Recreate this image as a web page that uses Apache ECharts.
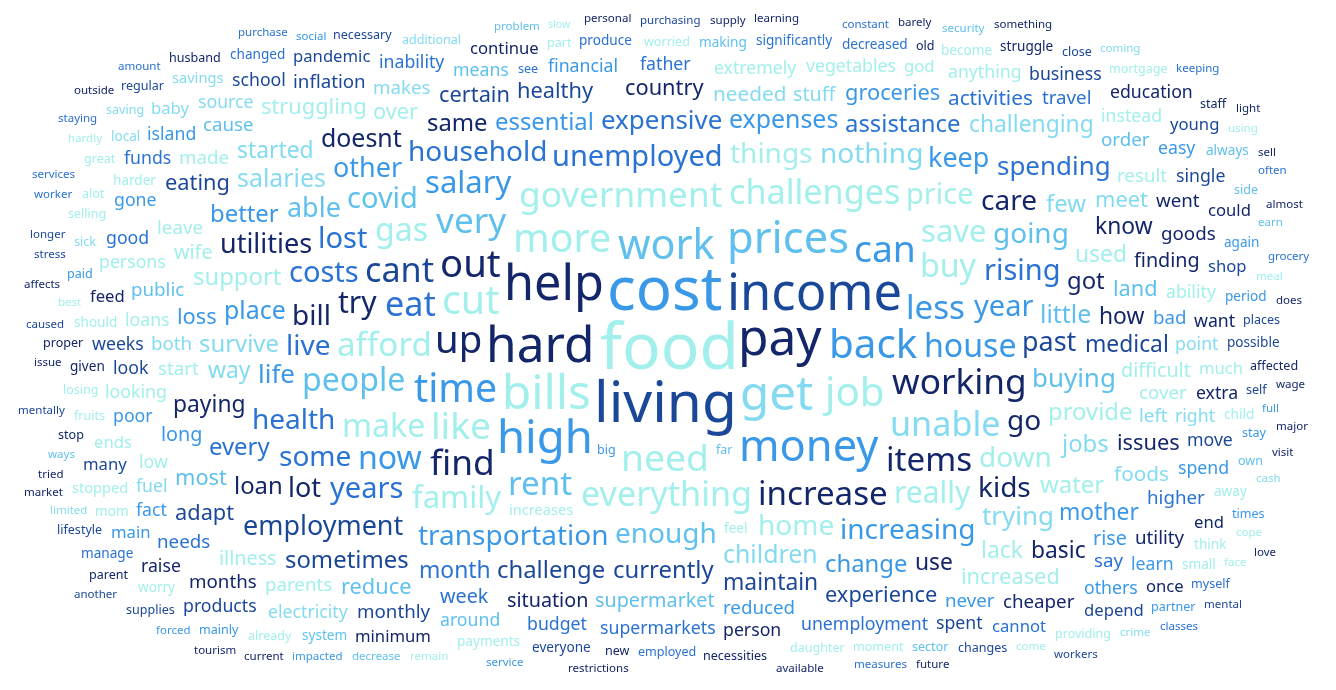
<!DOCTYPE html>
<html>
<head>
<meta charset="utf-8">
<script src="https://cdn.jsdelivr.net/npm/echarts@6/dist/echarts.min.js"></script>
<style>
html,body{margin:0;padding:0;background:#ffffff;}
#chart{width:1336px;height:690px;}
</style>
</head>
<body>
<div id="chart"></div>
<script>
// ---- DATA: [word, relative frequency], grouped by colour shade ----
const paleCyan = [["food",62],["bills",46],["more",38],["cut",38],["job",39],["need",36],["like",36],["government",34],["challenges",33],["everything",33],["afford",32],["make",31],["buy",31],["gas",31],["home",27],["family",30],["save",30],["price",28],["down",27],["things",27],["really",29],["provide",23],["water",23],["used",22],["support",23],["lack",22],["over",21],["increased",21],["struggling",21],["wife",19],["difficult",19],["illness",19],["leave",18],["made",18],["start",18],["result",18],["loans",17],["parents",18],["cover",18],["ability",17],["instead",17],["extremely",17],["looking",17],["anything",17],["vegetables",17],["persons",17],["much",16],["ends",16],["low",17],["god",16],["increases",14],["stopped",14],["harder",13],["payments",13],["should",13],["think",13],["away",13],["mom",13],["feel",13],["small",13],["child",13],["worry",13],["become",13],["cope",11],["hardly",11],["fruits",12],["worried",12],["selling",12],["great",12],["mortgage",12],["daughter",12],["moment",12],["alot",12],["already",12],["part",12],["losing",12],["providing",12],["come",11],["best",11],["face",11],["using",11],["remain",11],["meal",11],["slow",10]];
const lightSky = [["get",46],["unable",33],["nothing",27],["trying",25],["children",24],["salaries",24],["survive",23],["few",23],["jobs",23],["started",22],["challenging",22],["way",22],["meet",21],["needed",20],["foods",20],["stuff",19],["left",18],["makes",18],["both",18],["fuel",17],["source",17],["point",17],["right",17],["electricity",17],["baby",16],["savings",14],["local",13],["saving",12],["additional",12],["coming",11],["limited",11],["sick",12],["cash",11],["crime",11]];
const sky = [["prices",42],["work",40],["very",34],["rent",32],["people",31],["covid",28],["enough",27],["going",27],["able",26],["buying",25],["little",24],["reduce",21],["most",21],["land",21],["supermarket",19],["order",18],["cause",18],["public",18],["means",17],["around",17],["system",13],["making",13],["always",13],["sector",12],["own",12],["far",12],["side",12],["problem",11],["earn",11],["ways",11],["decrease",11],["security",11]];
const mediumBlue = [["cost",58],["high",44],["money",42],["back",39],["time",38],["can",36],["less",32],["house",31],["now",31],["salary",30],["year",28],["transportation",27],["increasing",27],["other",26],["keep",26],["life",25],["expenses",24],["place",24],["change",23],["essential",23],["better",23],["mother",22],["groceries",21],["loss",21],["long",19],["rise",19],["never",18],["bad",18],["reduced",18],["fact",17],["others",17],["financial",17],["island",17],["poor",17],["spend",17],["learn",17],["gone",17],["easy",17],["main",16],["again",13],["period",13],["big",12],["partner",12],["times",12],["stay",12],["paid",12],["mainly",12],["social",11],["impacted",11],["full",11],["forced",11],["service",11]];
const blue = [["eat",33],["unemployed",28],["years",28],["lost",28],["rising",28],["costs",28],["some",27],["household",27],["health",27],["live",27],["spending",25],["expensive",25],["assistance",23],["every",23],["month",22],["activities",20],["week",19],["say",18],["needs",18],["higher",18],["travel",18],["funds",17],["father",17],["budget",17],["unemployment",17],["supermarkets",17],["inability",17],["good",17],["cannot",16],["produce",13],["significantly",13],["decreased",13],["changed",13],["manage",13],["employed",12],["myself",12],["see",12],["keeping",11],["worker",11],["classes",11],["staying",11],["constant",11],["often",11],["measures",11],["purchase",11],["services",11],["grocery",11],["amount",11]];
const darkBlue = [["living",55],["income",49],["cant",33],["employment",26],["past",26],["currently",23],["challenge",23],["sometimes",23],["maintain",22],["medical",22],["adapt",21],["eating",21],["healthy",21],["experience",21],["certain",21],["monthly",18],["inflation",18],["look",17],["single",17],["move",17],["school",17],["spent",17],["business",17],["products",17],["weeks",17],["shop",16],["pandemic",16],["depend",16],["young",16],["many",16],["possible",13],["everyone",13],["places",12],["changes",12],["regular",12],["close",12],["self",12],["necessary",12],["supplies",12],["lifestyle",12],["caused",11],["purchasing",11],["mentally",11],["workers",11],["mental",11],["stress",11],["another",11],["longer",11]];
const navy = [["pay",48],["hard",48],["help",47],["up",37],["out",37],["find",34],["working",34],["items",32],["increase",32],["try",29],["bill",27],["go",27],["kids",27],["care",27],["utilities",26],["lot",26],["doesnt",24],["got",23],["loan",23],["same",23],["use",22],["paying",22],["how",22],["know",22],["basic",22],["country",21],["issues",21],["situation",19],["finding",19],["cheaper",18],["goods",18],["months",18],["utility",18],["went",18],["want",17],["extra",17],["raise",17],["education",17],["person",17],["end",16],["could",16],["feed",16],["minimum",16],["continue",16],["once",16],["struggle",13],["given",13],["parent",12],["necessities",12],["old",12],["husband",12],["stop",12],["new",12],["staff",12],["proper",12],["affected",12],["almost",11],["issue",11],["sell",11],["current",11],["visit",11],["light",11],["something",11],["tried",11],["personal",11],["barely",11],["supply",11],["love",11],["wage",11],["does",11],["restrictions",11],["learning",11],["available",11],["affects",11],["future",11],["tourism",11],["market",11],["major",11],["outside",11]];

const shadeGroups = [paleCyan, lightSky, sky, mediumBlue, blue, darkBlue, navy];
const palette = ['#a2efec', '#84dbf1', '#5fc0ee', '#3a98e8', '#2a72d3', '#1b4799', '#14266a'];

// ---- layout (word-cloud packing) ----
const W = 1336, H = 690;
const FONT_FAMILY = '"Noto Sans", "Open Sans", sans-serif';
const CELL = 2, PADX = 4, PADY = 4;
const allValues = shadeGroups.flat().map(d => d[1]);
const vMin = Math.min(...allValues), vMax = Math.max(...allValues);
const fontMin = 10.5, fontMax = 64;
const fontSize = v => fontMin + (v - vMin) / (vMax - vMin) * (fontMax - fontMin);

const items = [];
shadeGroups.forEach((g, gi) => g.forEach(([w, v]) => items.push({word: w, value: v, color: palette[gi]})));
items.sort((a, b) => b.value - a.value);

const gw = Math.ceil(W / CELL), gh = Math.ceil(H / CELL);
const occ = new Uint8Array(gw * gh);
const mctx = document.createElement('canvas').getContext('2d');
mctx.textBaseline = 'middle';
mctx.textAlign = 'left';

const P = 4.5;
const cands = [];
for (let j = 0; j < gh; j++) {
  for (let i = 0; i < gw; i++) {
    const dx = Math.abs(i + 0.5 - gw / 2) / (gw / 2), dy = Math.abs(j + 0.5 - gh / 2) / (gh / 2);
    cands.push([Math.pow(dx, P) + Math.pow(dy, P), i, j]);
  }
}
cands.sort((a, b) => a[0] - b[0] || a[2] - b[2] || a[1] - b[1]);

function fits(c0, r0, cw, ch) {
  if (c0 < 0 || r0 < 0 || c0 + cw > gw || r0 + ch > gh) return false;
  if (occ[(r0 + (ch >> 1)) * gw + c0 + (cw >> 1)]) return false;
  for (let r = r0; r < r0 + ch; r++) {
    const b = r * gw;
    for (let c = c0; c < c0 + cw; c++) if (occ[b + c]) return false;
  }
  return true;
}
const placed = [];
for (const it of items) {
  let size = fontSize(it.value);
  let ok = false;
  for (let attempt = 0; attempt < 4 && !ok; attempt++) {
    mctx.font = size + 'px ' + FONT_FAMILY;
    const m = mctx.measureText(it.word);
    const L = m.actualBoundingBoxLeft, R = m.actualBoundingBoxRight;
    const A = Math.max(m.actualBoundingBoxAscent, 0.42 * size);
    const D = Math.max(m.actualBoundingBoxDescent, 0.3 * size);
    const cw = Math.ceil((L + R + 2 * PADX) / CELL), ch = Math.ceil((A + D + 2 * PADY) / CELL);
    for (let k = 0; k < cands.length; k++) {
      const cd = cands[k];
      const c0 = Math.round(cd[1] - cw / 2), r0 = Math.round(cd[2] - ch / 2);
      if (fits(c0, r0, cw, ch)) {
        for (let r = r0; r < r0 + ch; r++) occ.fill(1, r * gw + c0, r * gw + c0 + cw);
        placed.push([c0 * CELL + PADX + L, r0 * CELL + PADY + A, it.word, size, it.color]);
        ok = true;
        break;
      }
    }
    if (!ok) size *= 0.9;
  }
}

const chart = echarts.init(document.getElementById('chart'));
chart.setOption({
  animation: false,
  grid: {left: 0, right: 0, top: 0, bottom: 0},
  xAxis: {type: 'value', min: 0, max: W, show: false},
  yAxis: {type: 'value', min: 0, max: H, inverse: true, show: false},
  series: [{
    type: 'custom',
    coordinateSystem: 'cartesian2d',
    clip: false,
    silent: true,
    data: placed,
    renderItem: function (params, api) {
      const d = placed[params.dataIndex];
      const pt = api.coord([api.value(0), api.value(1)]);
      return {
        type: 'text',
        x: pt[0], y: pt[1],
        style: {text: d[2], fill: d[4], fontSize: d[3], fontFamily: FONT_FAMILY, align: 'left', verticalAlign: 'middle'}
      };
    }
  }]
});
</script>
</body>
</html>
